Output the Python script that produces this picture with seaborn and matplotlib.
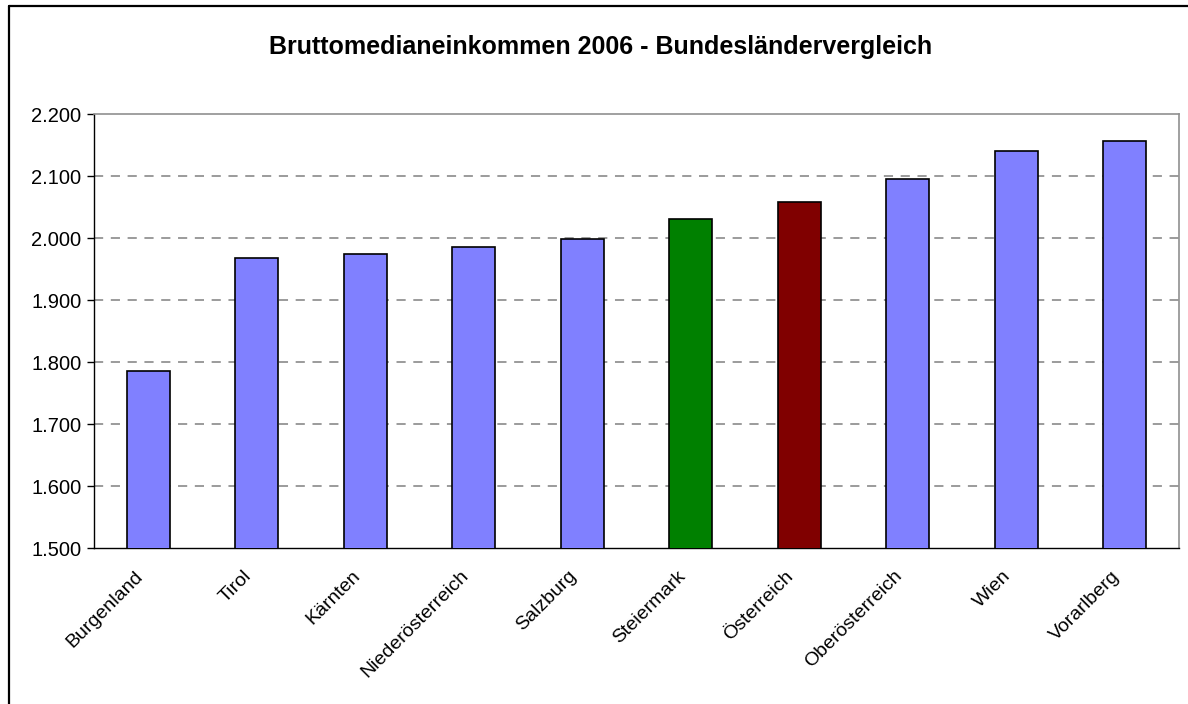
import matplotlib
matplotlib.use("Agg")
import matplotlib.pyplot as plt
from matplotlib.lines import Line2D
from matplotlib.transforms import ScaledTranslation
import seaborn as sns
import pandas as pd

categories = ["Burgenland", "Tirol", "Kärnten", "Niederösterreich", "Salzburg",
              "Steiermark", "Österreich", "Oberösterreich", "Wien", "Vorarlberg"]
values = [1785, 1968, 1974, 1985, 1998, 2031, 2058, 2095, 2140, 2156]
colors = ["#8080FF", "#8080FF", "#8080FF", "#8080FF", "#8080FF",
          "#008000", "#800000", "#8080FF", "#8080FF", "#8080FF"]
yticks = [1500, 1600, 1700, 1800, 1900, 2000, 2100, 2200]
ytick_labels = ["1.500", "1.600", "1.700", "1.800", "1.900", "2.000", "2.100", "2.200"]
title = "Bruttomedianeinkommen 2006 - Bundesländervergleich"

sns.set_style("white")
plt.rcParams["font.family"] = ["Liberation Sans", "DejaVu Sans"]
plt.rcParams["text.color"] = "black"
plt.rcParams["xtick.color"] = "black"
plt.rcParams["ytick.color"] = "black"
plt.rcParams["axes.labelcolor"] = "black"

df = pd.DataFrame({"Land": categories, "Wert": values})

fig = plt.figure(figsize=(11.88, 7.04), dpi=100)
ax = fig.add_axes([94 / 1188, 1 - 548 / 704, (1179 - 94) / 1188, (548 - 114) / 704])

sns.barplot(data=df, x="Land", y="Wert", hue="Land", palette=colors, legend=False,
            saturation=1, width=0.4, edgecolor="black", linewidth=1.2, ax=ax, zorder=3)

ax.set_ylim(1500, 2200)
ax.set_xlim(-0.5, 9.5)
ax.set_yticks(yticks)
ax.set_yticklabels(ytick_labels, fontsize=14.5)
ax.set_xticks(range(len(categories)))
ax.set_xticklabels(categories, rotation=45, ha="right", rotation_mode="anchor", fontsize=14)
ax.tick_params(axis="x", length=0, pad=14)
offset = ScaledTranslation(-14 / 100, 0, fig.dpi_scale_trans)
for lbl in ax.get_xticklabels():
    lbl.set_transform(lbl.get_transform() + offset)
ax.set_xticks([i - 0.5 for i in range(len(categories) + 1)], minor=True)
ax.tick_params(axis="x", which="minor", length=5, width=1, color="black", direction="out")
ax.tick_params(axis="y", length=5, width=1, color="black", direction="out", left=True, pad=4)
ax.set_xlabel("")
ax.set_ylabel("")

for y in yticks[1:-1]:
    ax.axhline(y, color="#808080", linestyle=(0, (6, 5)), linewidth=1.1, zorder=1)

for side in ["top", "right"]:
    ax.spines[side].set_color("#909090")
    ax.spines[side].set_linewidth(1.2)
ax.spines["left"].set_color("black")
ax.spines["bottom"].set_color("black")
ax.spines["left"].set_linewidth(1.0)
ax.spines["bottom"].set_linewidth(1.0)

fig.text(601 / 1188, 1 - 47 / 704, title, ha="center", va="center",
         fontsize=18, fontweight="bold", color="black")

# outer chart frame (left and top visible)
fig.add_artist(Line2D([8.5 / 1188, 8.5 / 1188], [0, 1 - 5.5 / 704], transform=fig.transFigure,
                      color="black", linewidth=1.6))
fig.add_artist(Line2D([8.5 / 1188, 1], [1 - 5.5 / 704, 1 - 5.5 / 704], transform=fig.transFigure,
                      color="black", linewidth=1.6))

fig.savefig("out.png", dpi=100)
